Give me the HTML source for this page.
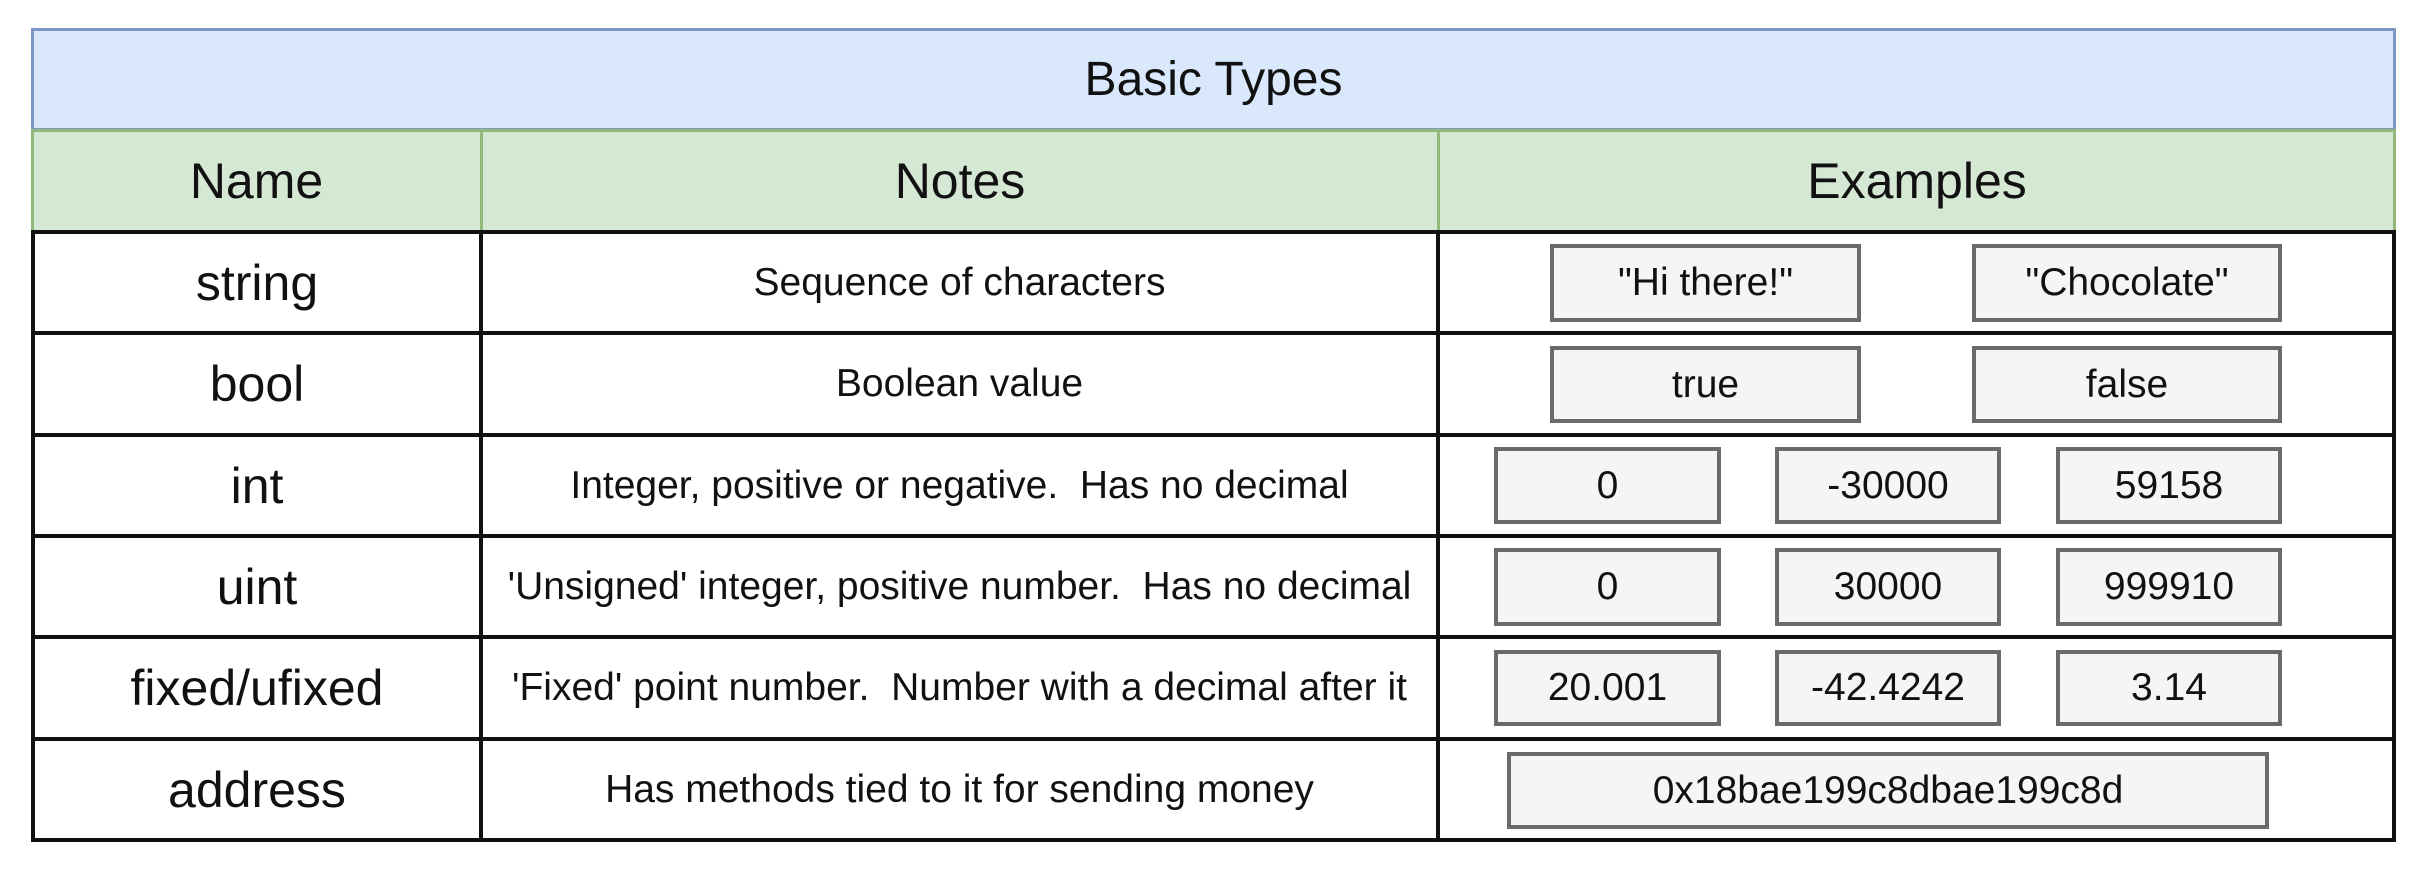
<!DOCTYPE html>
<html><head><meta charset="utf-8"><style>
html,body{margin:0;padding:0;width:2430px;height:872px;background:#fff;overflow:hidden;font-family:"Liberation Sans",Arial,sans-serif;color:#111}
.a{position:absolute;box-sizing:border-box;display:flex;align-items:center;justify-content:center;text-align:center}
.hl{position:absolute;height:4px;background:#111}
.vl{position:absolute;width:4px;background:#111}
.b{position:absolute;box-sizing:border-box;border:4px solid #6a6a6a;background:#f5f5f5;display:flex;align-items:center;justify-content:center;font-size:39px}
.nm{font-size:50px}
.nt{font-size:39px}
</style></head><body>
<div class="a" style="left:31px;top:28px;width:2365px;height:103px;background:#dae8fc;border:3px solid #7d98c4;font-size:48px">Basic Types</div>
<div class="a" style="left:31px;top:129px;width:2365px;height:104px;background:#d5e8d4;border:3px solid #93b97a"></div>
<div style="position:absolute;left:480px;top:131px;width:3px;height:100px;background:#93b97a"></div>
<div style="position:absolute;left:1437px;top:131px;width:3px;height:100px;background:#93b97a"></div>
<div class="a nm" style="left:31px;top:130px;width:451px;height:102px">Name</div>
<div class="a nm" style="left:482px;top:130px;width:956px;height:102px">Notes</div>
<div class="a nm" style="left:1438px;top:130px;width:958px;height:102px">Examples</div>

<div class="hl" style="left:31px;top:230px;width:2365px"></div>
<div class="hl" style="left:31px;top:331px;width:2365px"></div>
<div class="hl" style="left:31px;top:433px;width:2365px"></div>
<div class="hl" style="left:31px;top:534px;width:2365px"></div>
<div class="hl" style="left:31px;top:635px;width:2365px"></div>
<div class="hl" style="left:31px;top:737px;width:2365px"></div>
<div class="hl" style="left:31px;top:838px;width:2365px"></div>
<div class="vl" style="left:31px;top:230px;height:612px"></div>
<div class="vl" style="left:479px;top:230px;height:612px"></div>
<div class="vl" style="left:1436px;top:230px;height:612px"></div>
<div class="vl" style="left:2392px;top:230px;height:612px"></div>

<div class="a nm" style="left:35px;top:234px;width:444px;height:97px">string</div>
<div class="a nm" style="left:35px;top:335px;width:444px;height:98px">bool</div>
<div class="a nm" style="left:35px;top:437px;width:444px;height:97px">int</div>
<div class="a nm" style="left:35px;top:538px;width:444px;height:97px">uint</div>
<div class="a nm" style="left:35px;top:639px;width:444px;height:98px">fixed/ufixed</div>
<div class="a nm" style="left:35px;top:741px;width:444px;height:97px">address</div>

<div class="a nt" style="left:483px;top:234px;width:953px;height:97px">Sequence of characters</div>
<div class="a nt" style="left:483px;top:335px;width:953px;height:98px">Boolean value</div>
<div class="a nt" style="left:483px;top:437px;width:953px;height:97px;white-space:pre">Integer, positive or negative.  Has no decimal</div>
<div class="a nt" style="left:483px;top:538px;width:953px;height:97px;white-space:pre">'Unsigned' integer, positive number.  Has no decimal</div>
<div class="a nt" style="left:483px;top:639px;width:953px;height:98px;white-space:pre">'Fixed' point number.  Number with a decimal after it</div>
<div class="a nt" style="left:483px;top:741px;width:953px;height:97px">Has methods tied to it for sending money</div>

<div class="b" style="left:1550px;top:244px;width:311px;height:78px">"Hi there!"</div>
<div class="b" style="left:1972px;top:244px;width:310px;height:78px">"Chocolate"</div>
<div class="b" style="left:1550px;top:346px;width:311px;height:77px">true</div>
<div class="b" style="left:1972px;top:346px;width:310px;height:77px">false</div>
<div class="b" style="left:1494px;top:447px;width:227px;height:77px">0</div>
<div class="b" style="left:1775px;top:447px;width:226px;height:77px">-30000</div>
<div class="b" style="left:2056px;top:447px;width:226px;height:77px">59158</div>
<div class="b" style="left:1494px;top:548px;width:227px;height:78px">0</div>
<div class="b" style="left:1775px;top:548px;width:226px;height:78px">30000</div>
<div class="b" style="left:2056px;top:548px;width:226px;height:78px">999910</div>
<div class="b" style="left:1494px;top:650px;width:227px;height:76px">20.001</div>
<div class="b" style="left:1775px;top:650px;width:226px;height:76px">-42.4242</div>
<div class="b" style="left:2056px;top:650px;width:226px;height:76px">3.14</div>
<div class="b" style="left:1507px;top:752px;width:762px;height:77px">0x18bae199c8dbae199c8d</div>
</body></html>
